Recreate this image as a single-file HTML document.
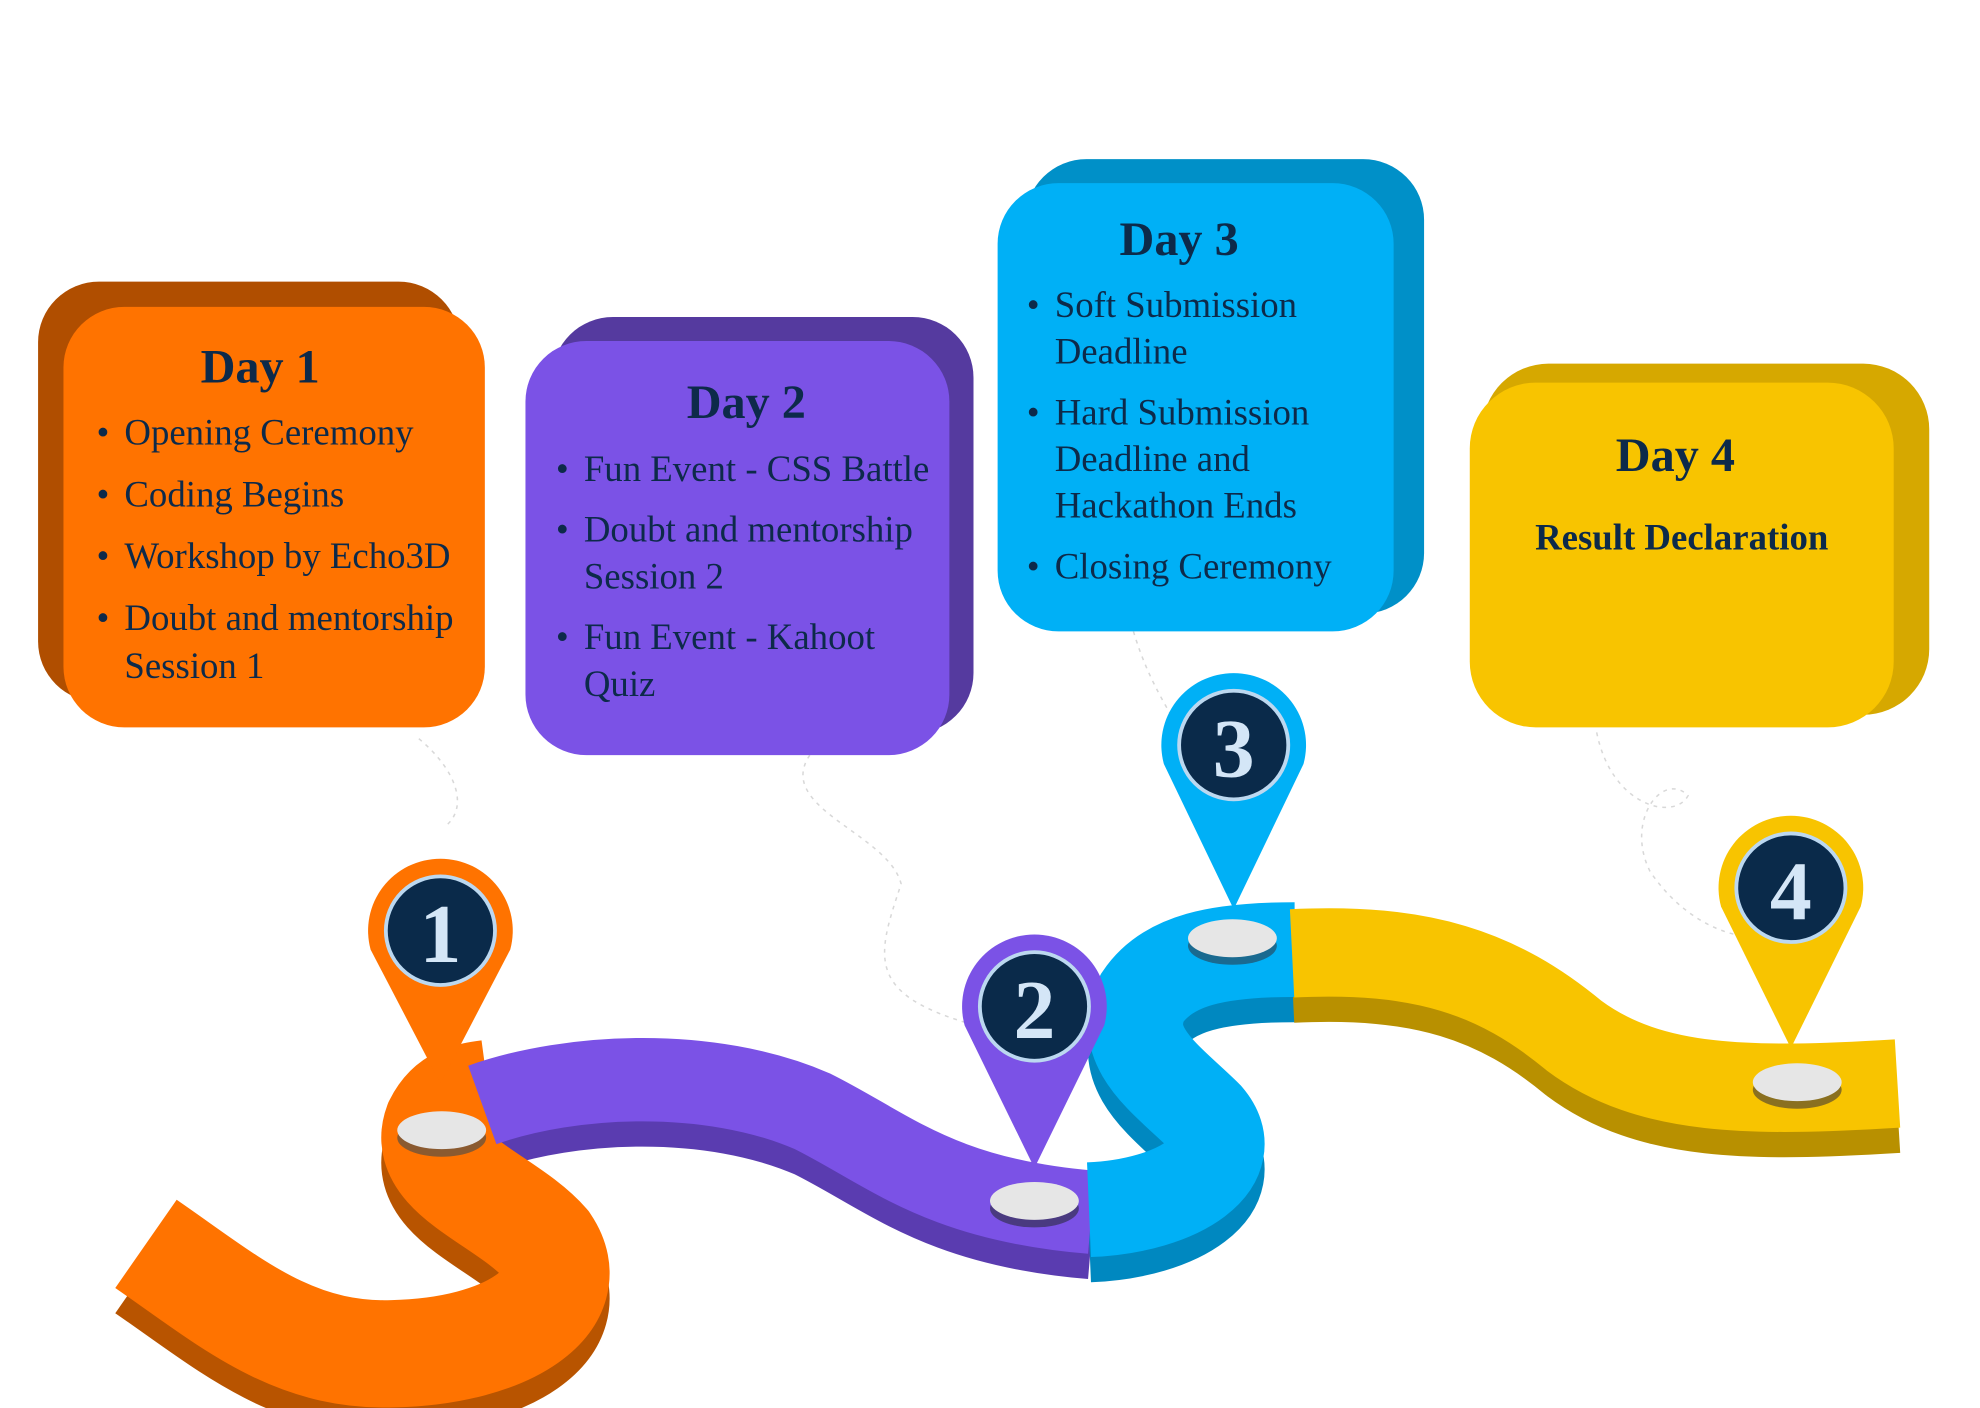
<!DOCTYPE html>
<html><head><meta charset="utf-8"><style>
html,body{margin:0;padding:0;background:#fff;}
svg{display:block;}
text{font-family:"Liberation Serif",serif;fill:#0d2a4a;}
.t{font-weight:bold;font-size:38px;text-anchor:middle;}
.b{font-size:29px;}
.n{font-weight:bold;font-size:66px;text-anchor:middle;fill:#d4e6f7;}
</style></head><body>
<svg width="1980" height="1408" viewBox="0 0 1560 1115" preserveAspectRatio="none" xmlns="http://www.w3.org/2000/svg">
<g fill="none" stroke="#d8d8d8" stroke-width="1.2" stroke-dasharray="3 4">
<path d="M330,585 C360,610 370,640 350,655"/>
<path d="M638,598 C610,640 700,660 710,700 C690,760 680,790 780,815"/>
<path d="M893,500 C905,540 920,560 930,580"/>
<path d="M1258,580 C1270,640 1320,650 1330,630 C1310,610 1280,650 1300,690 C1320,720 1350,740 1380,742"/>
</g>
<rect x="30" y="223" width="332" height="333" rx="48" fill="#b04e00"/>
<rect x="50" y="243" width="332" height="333" rx="48" fill="#ff7300"/>
<rect x="435" y="251" width="332" height="330" rx="48" fill="#553a9f"/>
<rect x="414" y="270" width="334" height="328" rx="48" fill="#7b52e6"/>
<rect x="808" y="126" width="314" height="360" rx="48" fill="#0090c8"/>
<rect x="786" y="145" width="312" height="355" rx="48" fill="#00b0f6"/>
<rect x="1168" y="288" width="352" height="278" rx="52" fill="#d6a800"/>
<rect x="1158" y="303" width="334" height="273" rx="52" fill="#f8c400"/>
<text class="t" x="205" y="303">Day 1</text>
<g class="b">
<text x="76" y="352">•</text><text x="98" y="352">Opening Ceremony</text>
<text x="76" y="401">•</text><text x="98" y="401">Coding Begins</text>
<text x="76" y="450">•</text><text x="98" y="450">Workshop by Echo3D</text>
<text x="76" y="499">•</text><text x="98" y="499">Doubt and mentorship</text>
<text x="98" y="537">Session 1</text>
</g>
<text class="t" x="588" y="331">Day 2</text>
<g class="b">
<text x="438" y="381">•</text><text x="460" y="381">Fun Event - CSS Battle</text>
<text x="438" y="429">•</text><text x="460" y="429">Doubt and mentorship</text>
<text x="460" y="466">Session 2</text>
<text x="438" y="514">•</text><text x="460" y="514">Fun Event - Kahoot</text>
<text x="460" y="551">Quiz</text>
</g>
<text class="t" x="929" y="202">Day 3</text>
<g class="b">
<text x="809" y="251">•</text><text x="831" y="251">Soft Submission</text>
<text x="831" y="288">Deadline</text>
<text x="809" y="336">•</text><text x="831" y="336">Hard Submission</text>
<text x="831" y="373">Deadline and</text>
<text x="831" y="410">Hackathon Ends</text>
<text x="809" y="458">•</text><text x="831" y="458">Closing  Ceremony</text>
</g>
<text class="t" x="1320" y="373">Day 4</text>
<text x="1325" y="435" style="font-weight:bold;font-size:29px;text-anchor:middle;">Result Declaration</text>
<g fill="none" stroke-linecap="butt" transform="translate(0,20)">
<path d="M115,985 C180,1030 230,1075 310,1072 C400,1070 460,1030 430,985 C400,950 330,930 345,890 C355,870 370,868 385,866" stroke="#b85400" stroke-width="85"/>
<path d="M380,875 C450,850 560,845 640,880 C700,910 740,950 860,960" stroke="#5a3cb0" stroke-width="66"/>
<path d="M858,958 C930,955 980,920 950,885 C920,855 880,830 900,790 C920,760 960,752 1020,752" stroke="#0088c0" stroke-width="75"/>
<path d="M1018,755 C1120,750 1180,770 1240,820 C1300,865 1380,865 1495,858" stroke="#b89000" stroke-width="70"/>
</g>
<g fill="none" stroke-linecap="butt">
<path d="M115,985 C180,1030 230,1075 310,1072 C400,1070 460,1030 430,985 C400,950 330,930 345,890 C355,870 370,868 385,866" stroke="#ff7300" stroke-width="85"/>
<path d="M380,875 C450,850 560,845 640,880 C700,910 740,950 860,960" stroke="#7b52e6" stroke-width="66"/>
<path d="M858,958 C930,955 980,920 950,885 C920,855 880,830 900,790 C920,760 960,752 1020,752" stroke="#00b0f6" stroke-width="75"/>
<path d="M1018,755 C1120,750 1180,770 1240,820 C1300,865 1380,865 1495,858" stroke="#f8c400" stroke-width="70"/>
</g>
<g>
<ellipse cx="348" cy="901" rx="35" ry="15" fill="#8a5a30"/><ellipse cx="348" cy="895" rx="35" ry="15" fill="#e6e6e6"/>
<ellipse cx="815" cy="957" rx="35" ry="15" fill="#4a3a80"/><ellipse cx="815" cy="951" rx="35" ry="15" fill="#e6e6e6"/>
<ellipse cx="971" cy="749" rx="35" ry="15" fill="#1a6a90"/><ellipse cx="971" cy="743" rx="35" ry="15" fill="#e6e6e6"/>
<ellipse cx="1416" cy="863" rx="35" ry="15" fill="#8a7020"/><ellipse cx="1416" cy="857" rx="35" ry="15" fill="#e6e6e6"/>
</g>
<g>
<path d="M292,752 A57,57 0 1 1 402,752 L347,858 Z" fill="#ff7300"/>
<circle cx="347" cy="737" r="43" fill="#0a2a4a" stroke="#bcd8f0" stroke-width="3"/>
<text class="n" x="347" y="762">1</text>
<path d="M760,812 A57,57 0 1 1 870,812 L815,925 Z" fill="#7b52e6"/>
<circle cx="815" cy="797" r="43" fill="#0a2a4a" stroke="#bcd8f0" stroke-width="3"/>
<text class="n" x="815" y="822">2</text>
<path d="M917,605 A57,57 0 1 1 1027,605 L972,720 Z" fill="#00b0f6"/>
<circle cx="972" cy="590" r="43" fill="#0a2a4a" stroke="#bcd8f0" stroke-width="3"/>
<text class="n" x="972" y="615">3</text>
<path d="M1356,718 A57,57 0 1 1 1466,718 L1411,830 Z" fill="#f8c400"/>
<circle cx="1411" cy="703" r="43" fill="#0a2a4a" stroke="#bcd8f0" stroke-width="3"/>
<text class="n" x="1411" y="728">4</text>
</g>
</svg>
</body></html>
